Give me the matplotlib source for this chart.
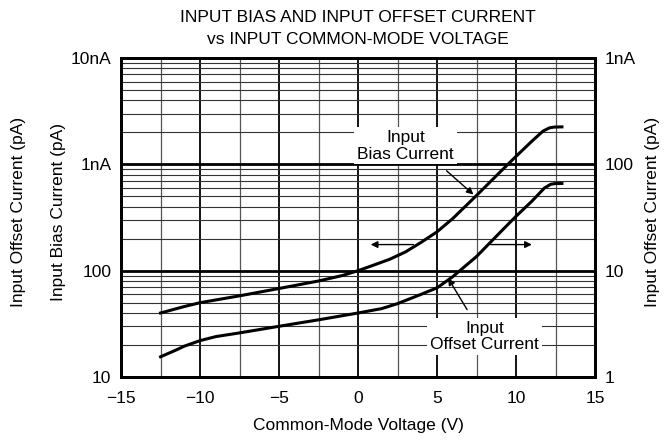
import numpy as np
import matplotlib
matplotlib.use("Agg")
import matplotlib.pyplot as plt
from matplotlib.ticker import FixedLocator, NullFormatter

plt.rcParams['font.family'] = ['Liberation Sans', 'DejaVu Sans']

# bias current, left axis (pA)
bias_v = [-12.5, -11, -10, -7.5, -5, -2.5, -1, 0, 1, 2, 3, 4, 5, 6, 7.5, 9, 10, 11, 11.7, 12.1, 12.4, 12.9]
bias_pa = [40, 46, 50, 58, 68, 80, 90, 100, 113, 128, 150, 185, 232, 310, 510, 850, 1190, 1650, 2050, 2200, 2240, 2250]

# offset current, right axis (pA)
offs_v = [-12.5, -11.5, -11, -10, -9, -7.5, -5, -2.5, 0, 1.5, 2.5, 4, 5, 6, 7.5, 9, 10, 11, 11.8, 12.2, 12.5, 12.9]
offs_pa = [1.55, 1.8, 1.95, 2.2, 2.4, 2.6, 3.0, 3.45, 4.0, 4.4, 4.9, 6.0, 6.9, 8.8, 13.6, 23, 32.5, 45, 60, 65, 66, 66]

xticks = [-15, -10, -5, 0, 5, 10, 15]
left_ticks = [10, 100, 1000, 10000]
left_labels = ['10', '100', '1nA', '10nA']
right_ticks = [1, 10, 100, 1000]
right_labels = ['1', '10', '100', '1nA']

fs = 12.5

fig = plt.figure(figsize=(6.69, 4.41), dpi=100)
ax = fig.add_axes([0.181, 0.1451, 0.7085, 0.7234])
ax.set_xlim(-15, 15)
ax.set_yscale('log')
ax.set_ylim(10, 10000)

# grid
for x in np.arange(-12.5, 15, 2.5):
    if x % 5 == 0:
        ax.axvline(x, color='black', lw=1.3, zorder=1)
    else:
        ax.axvline(x, color='#555555', lw=0.9, zorder=1)
for dec in [10, 100, 1000]:
    ax.axhline(dec, color='black', lw=2.0, zorder=1)
    for m in range(2, 10):
        ax.axhline(dec * m, color='#333333', lw=0.8, zorder=1)

ax.plot(bias_v, bias_pa, color='black', lw=2.2, zorder=3)
ax.plot(offs_v, np.array(offs_pa) * 10, color='black', lw=2.2, zorder=3)

ax.set_xticks(xticks)
ax.set_xticklabels(['\u221215', '\u221210', '\u22125', '0', '5', '10', '15'])
ax.yaxis.set_major_locator(FixedLocator(left_ticks))
ax.set_yticklabels(left_labels)
ax.yaxis.set_minor_formatter(NullFormatter())
ax.tick_params(which='both', length=0, labelsize=fs)
ax.tick_params(axis='x', pad=10)
ax.tick_params(axis='y', pad=7)
for s in ax.spines.values():
    s.set_linewidth(2.0)
    s.set_zorder(5)

ax2 = ax.twinx()
ax2.set_yscale('log')
ax2.set_ylim(1, 1000)
ax2.yaxis.set_major_locator(FixedLocator(right_ticks))
ax2.set_yticklabels(right_labels)
ax2.yaxis.set_minor_formatter(NullFormatter())
ax2.tick_params(which='both', length=0, labelsize=fs, pad=7)
for s in ax2.spines.values():
    s.set_linewidth(2.0)

# labels with white boxes
box = dict(facecolor='white', edgecolor='none', pad=2)
ax.text(3.0, 1500, 'Input\nBias Current', ha='center', va='center', fontsize=fs,
        linespacing=1.15, bbox=box, zorder=4)
ax.text(8.0, 24, 'Input\nOffset Current', ha='center', va='center', fontsize=fs,
        linespacing=1.15, bbox=box, zorder=4)

arrow = dict(arrowstyle='-|>', color='black', lw=1.0, mutation_scale=10, shrinkA=0, shrinkB=0)
ax.annotate('', xy=(7.3, 520), xytext=(5.6, 870), arrowprops=arrow, zorder=4)
ax.annotate('', xy=(5.7, 85), xytext=(6.9, 43), arrowprops=arrow, zorder=4)
ax.annotate('', xy=(0.8, 176), xytext=(3.5, 176), arrowprops=arrow, zorder=4)
ax.annotate('', xy=(11.0, 176), xytext=(8.4, 176), arrowprops=arrow, zorder=4)

ax.set_xlabel('Common-Mode Voltage (V)', fontsize=fs, labelpad=9)
fig.text(0.027, 0.519, 'Input Offset Current (pA)', rotation=90, ha='center', va='center', fontsize=fs)
fig.text(0.087, 0.519, 'Input Bias Current (pA)', rotation=90, ha='center', va='center', fontsize=fs)
fig.text(0.976, 0.519, 'Input Offset Current (pA)', rotation=90, ha='center', va='center', fontsize=fs)

fig.text(0.535, 0.961, 'INPUT BIAS AND INPUT OFFSET CURRENT', ha='center', va='center', fontsize=fs)
fig.text(0.535, 0.911, 'vs INPUT COMMON-MODE VOLTAGE', ha='center', va='center', fontsize=fs)

fig.savefig('out.png', dpi=100)
